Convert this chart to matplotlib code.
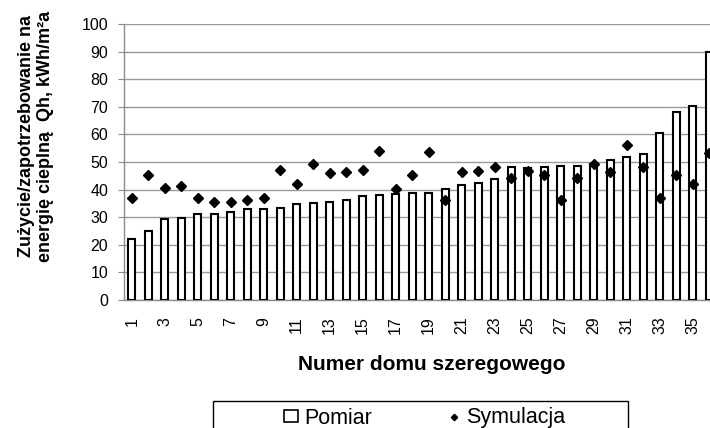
import matplotlib

matplotlib.use("Agg")
import matplotlib.pyplot as plt
from matplotlib.patches import Rectangle

plt.rcParams["font.family"] = ["Liberation Sans", "DejaVu Sans"]

W, H = 710, 428

# data
houses = list(range(1, 37))
pomiar = [22.0, 25.0, 29.2, 29.6, 31.2, 31.2, 32.0, 32.8, 32.8, 33.2,
          34.8, 35.3, 35.6, 36.4, 37.7, 38.0, 38.5, 38.9, 38.9, 40.1,
          41.7, 42.5, 43.7, 48.1, 48.0, 48.1, 48.6, 48.6, 49.3, 50.8,
          51.7, 52.9, 60.6, 68.0, 70.4, 89.9]
symulacja = [36.8, 45.4, 40.4, 41.2, 36.8, 35.4, 35.5, 36.2, 37.0, 47.0,
             42.0, 49.2, 45.9, 46.3, 47.0, 53.9, 40.2, 45.3, 53.6, 36.1,
             46.3, 46.9, 48.1, 44.1, 46.9, 45.4, 36.2, 44.3, 49.4, 46.3,
             56.0, 48.1, 36.8, 45.3, 42.1, 53.1]
x_ticks = list(range(1, 36, 2))
y_ticks = list(range(0, 101, 10))

fig = plt.figure(figsize=(W / 100, H / 100), dpi=100)
fig.patch.set_facecolor("white")
ax = fig.add_axes([123.5 / W, 128 / H, 594 / W, 276 / H])

bars = ax.bar(houses, pomiar, width=0.42, facecolor="white", edgecolor="black",
              linewidth=1.5, zorder=3, label="Pomiar")
sym, = ax.plot(houses, symulacja, linestyle="none", marker="D", markersize=4.6,
               color="black", zorder=4, label="Symulacja")

ax.set_xlim(0.5, 36.5)
ax.set_ylim(0, 100)
ax.set_yticks(y_ticks)
ax.set_xticks(x_ticks)
ax.set_xticklabels([str(v) for v in x_ticks], rotation=90)
ax.tick_params(axis="y", length=4, color="#8c8c8c", labelsize=11.5, pad=7)
ax.tick_params(axis="x", length=0, labelsize=11.5, pad=12)
ax.grid(axis="y", color="#9a9a9a", linewidth=1.0, zorder=0)
ax.set_axisbelow(True)
for side in ["top", "right"]:
    ax.spines[side].set_visible(False)
for side in ["left", "bottom"]:
    ax.spines[side].set_color("#8c8c8c")
    ax.spines[side].set_linewidth(1.0)

fig.text(36 / W, 1 - 136 / H, "Zużycie/zapotrzebowanie na\nenergię cieplną  Qh, kWh/m²a",
         rotation=90, ha="center", va="center", multialignment="center",
         fontsize=13, fontweight="bold", linespacing=1.1)
fig.text(432 / W, 1 - 364 / H, "Numer domu szeregowego", ha="center", va="center",
         fontsize=15, fontweight="bold")

# legend box, cut at the bottom edge like the reference
fig.add_artist(Rectangle((213 / W, -0.05), 415 / W, 0.05 + (H - 401) / H,
                         transform=fig.transFigure, facecolor="none",
                         edgecolor="black", linewidth=1.0, clip_on=False))
leg = fig.legend([bars, sym], ["Pomiar", "Symulacja"], ncol=2, loc="center",
                 bbox_to_anchor=(425 / W, 1 - 418 / H), frameon=False, fontsize=15.5,
                 handlelength=0.65, handleheight=0.45, handletextpad=0.25,
                 columnspacing=3.5, borderpad=0, markerscale=0.7)
leg.legend_handles[0].set_linewidth(1.2)

fig.savefig("out.png", dpi=100)
plt.close(fig)
